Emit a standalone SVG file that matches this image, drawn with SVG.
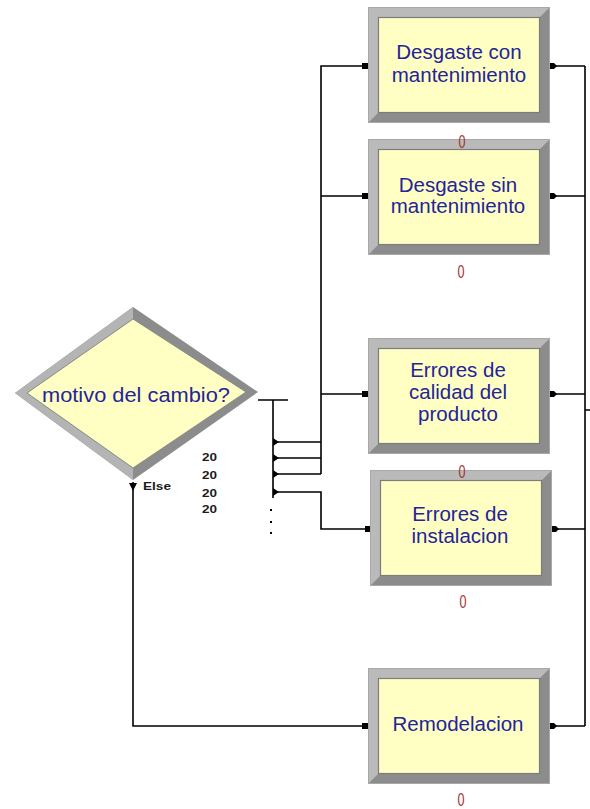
<svg xmlns="http://www.w3.org/2000/svg" xmlns:xlink="http://www.w3.org/1999/xlink" width="590" height="809" viewBox="0 0 590 809">
<style>
.lbl{font-family:"Liberation Sans",Arial,sans-serif;font-size:20.5px;fill:#24249a;text-anchor:middle}
.zero{font-family:"Liberation Sans",Arial,sans-serif;font-size:19px;fill:#a83030;text-anchor:middle}
.sm{font-family:"Liberation Sans",Arial,sans-serif;font-size:11px;font-weight:bold;fill:#1a1a1a}
.ln{fill:none;stroke:#000;stroke-width:1.6}
.mk{fill:#000}
</style>
<defs>
<g id="boxShape">
<rect x="0" y="0" width="182" height="116" fill="#8c8c8c"/>
<polygon points="0,0 182,0 172,10 10,10 10,106 0,116" fill="#bababa"/>
<rect x="0.5" y="0.5" width="181" height="115" fill="none" stroke="#a8a8a8" stroke-width="1"/>
<rect x="10.5" y="10.5" width="161" height="95" fill="#ffffc4" stroke="#7c7c7c" stroke-width="1.2"/>
</g>
</defs>
<rect width="590" height="809" fill="#ffffff"/>

<g id="connectors">
<path class="ln" d="M258,400 H288 M273,400 V498"/>
<rect class="mk" x="270" y="509" width="2" height="2"/>
<rect class="mk" x="270" y="521" width="2" height="2"/>
<rect class="mk" x="270" y="532" width="2" height="2"/>
<path class="ln" d="M273,442 H321 M273,458 H321 M273,474 H321 M273,492 H321 V529 H365"/>
<path class="ln" d="M321,474 V66 H365 M321,196 H365 M321,394 H365"/>
<path class="ln" d="M133,482 V726 H365"/>
<path class="ln" d="M550,66 H585 M550,196 H585 M550,394 H585 M552,529 H585 M550,726 H585 M585,66 V726 M585,410 H590"/>
<polygon class="mk" points="273,438 279,442 273,446"/>
<polygon class="mk" points="273,454 279,458 273,462"/>
<polygon class="mk" points="273,470 279,474 273,478"/>
<polygon class="mk" points="273,488 279,492 273,496"/>
<polygon class="mk" points="129,483 137,483 133,491"/>
<rect class="mk" x="362" y="63" width="6" height="6"/>
<rect class="mk" x="362" y="193" width="6" height="6"/>
<rect class="mk" x="362" y="391" width="6" height="6"/>
<rect class="mk" x="365" y="526" width="6" height="6"/>
<rect class="mk" x="362" y="723" width="6" height="6"/>
<polygon class="mk" points="550,63 554,63 557,66 554,69 550,69"/>
<polygon class="mk" points="550,193 554,193 557,196 554,199 550,199"/>
<polygon class="mk" points="550,391 554,391 557,394 554,397 550,397"/>
<polygon class="mk" points="552,526 556,526 559,529 556,532 552,532"/>
<polygon class="mk" points="550,723 554,723 557,726 554,729 550,729"/>
</g>

<g id="decide">
<polygon points="133,307 258,392 133,480 15,393" fill="#8c8c8c"/>
<polygon points="133,307 133,319 27,393 133,468 133,480 15,393" fill="#b4b4b4"/>
<polygon points="133,319 246,392 133,468 27,393" fill="#ffffc4" stroke="#8a8a8a" stroke-width="1"/>
<text class="lbl" x="136" y="402" textLength="188" lengthAdjust="spacingAndGlyphs">motivo del cambio?</text>
<text class="sm" x="143" y="490" textLength="28" lengthAdjust="spacingAndGlyphs">Else</text>
<text class="sm" x="202" y="461" textLength="15" lengthAdjust="spacingAndGlyphs">20</text>
<text class="sm" x="202" y="479" textLength="15" lengthAdjust="spacingAndGlyphs">20</text>
<text class="sm" x="202" y="497" textLength="15" lengthAdjust="spacingAndGlyphs">20</text>
<text class="sm" x="202" y="513" textLength="15" lengthAdjust="spacingAndGlyphs">20</text>
</g>

<g id="desgaste_sin">
<use xlink:href="#boxShape" href="#boxShape" x="368" y="139"/>
<text class="lbl" x="458" y="192">Desgaste sin</text>
<text class="lbl" x="458" y="213">mantenimiento</text>
<text class="zero" x="461" y="278" textLength="7" lengthAdjust="spacingAndGlyphs">0</text>
</g>

<g id="desgaste_con">
<use xlink:href="#boxShape" href="#boxShape" x="368" y="7"/>
<text class="lbl" x="459" y="59">Desgaste con</text>
<text class="lbl" x="459" y="82">mantenimiento</text>
<text class="zero" x="462" y="148" textLength="7" lengthAdjust="spacingAndGlyphs">0</text>
</g>

<g id="errores_instalacion">
<use xlink:href="#boxShape" href="#boxShape" x="370" y="470"/>
<text class="lbl" x="460" y="521">Errores de</text>
<text class="lbl" x="460" y="543">instalacion</text>
<text class="zero" x="463" y="608" textLength="7" lengthAdjust="spacingAndGlyphs">0</text>
</g>

<g id="errores_calidad">
<use xlink:href="#boxShape" href="#boxShape" x="368" y="338"/>
<text class="lbl" x="458" y="377">Errores de</text>
<text class="lbl" x="458" y="399">calidad del</text>
<text class="lbl" x="458" y="421">producto</text>
<text class="zero" x="462" y="478" textLength="7" lengthAdjust="spacingAndGlyphs">0</text>
</g>

<g id="remodelacion">
<use xlink:href="#boxShape" href="#boxShape" x="368" y="668"/>
<text class="lbl" x="458" y="731">Remodelacion</text>
<text class="zero" x="461" y="806" textLength="7" lengthAdjust="spacingAndGlyphs">0</text>
</g>
</svg>
